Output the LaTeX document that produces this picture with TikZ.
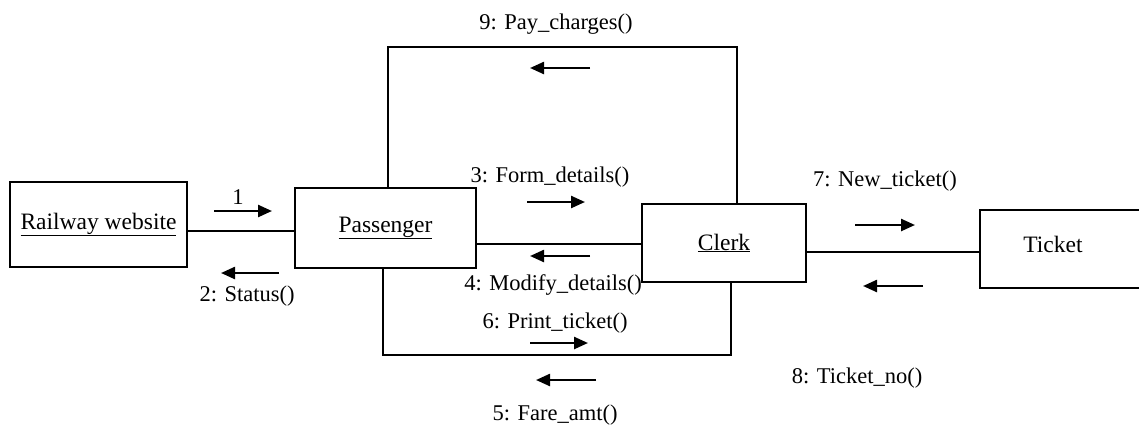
\documentclass[tikz,border=0pt]{standalone}
\usepackage{fontspec}
\setmainfont{Liberation Serif}
\usetikzlibrary{arrows.meta}
\begin{document}
\begin{tikzpicture}[x=1pt,y=-1pt,
  obj/.style={draw,line width=1.5pt,inner sep=0pt,font=\fontsize{23.5}{27}\selectfont},
  lbl/.style={inner sep=0pt,font=\fontsize{22.5}{26}\selectfont},
  link/.style={line width=1.5pt},
  msg/.style={line width=2.4pt,-{Triangle[length=14pt,width=12pt]}}]
\useasboundingbox (0,0) rectangle (1139,429);
\clip (0,0) rectangle (1139,429);
% objects
\node[obj,minimum width=177pt,minimum height=85pt] (rw) at (98.5,224.5) {\underline{Railway website}};
\node[obj,minimum width=181pt,minimum height=80pt] (pass) at (385.5,228) {\underline{Passenger}};
\node[obj,minimum width=164pt,minimum height=78pt] (clerk) at (724,243) {\underline{Clerk}};
\node[obj,minimum width=180pt,minimum height=78pt] (tk) at (1070,249) {};
\node[obj,draw=none] (tktext) at (1053,244) {Ticket};
% links
\draw[link] (rw.east |- 0,231) -- (pass.west |- 0,231);
\draw[link] (pass.east |- 0,244) -- (clerk.west |- 0,244);
\draw[link] (clerk.east |- 0,252) -- (tk.west |- 0,252);
\draw[link] (pass.north -| 388,0) -- (388,47) -- (737,47) -- (clerk.north -| 737,0);
\draw[link] (pass.south -| 383,0) -- (383,355) -- (731,355) -- (clerk.south -| 731,0);
% messages
\node[lbl] (m1) at (238,197) {1};
\draw[msg] (214,211) -- (272,211);
\node[lbl] (m2) at (247,296) {2: Status()};
\draw[msg] (279,273) -- (221,273);
\node[lbl] (m9) at (556,24) {9: Pay\_charges()};
\draw[msg] (590,68) -- (530,68);
\node[lbl] (m3) at (550,177) {3: Form\_details()};
\draw[msg] (527,202) -- (585,202);
\draw[msg] (590,256) -- (530,256);
\node[lbl] (m4) at (553,285) {4: Modify\_details()};
\node[lbl] (m6) at (555,323) {6: Print\_ticket()};
\draw[msg] (530,343) -- (588,343);
\draw[msg] (596,380) -- (536,380);
\node[lbl] (m5) at (555,415) {5: Fare\_amt()};
\node[lbl] (m7) at (885,181) {7: New\_ticket()};
\draw[msg] (855,225) -- (915,225);
\draw[msg] (923,286) -- (863,286);
\node[lbl] (m8) at (857,378) {8: Ticket\_no()};
\end{tikzpicture}
\end{document}
